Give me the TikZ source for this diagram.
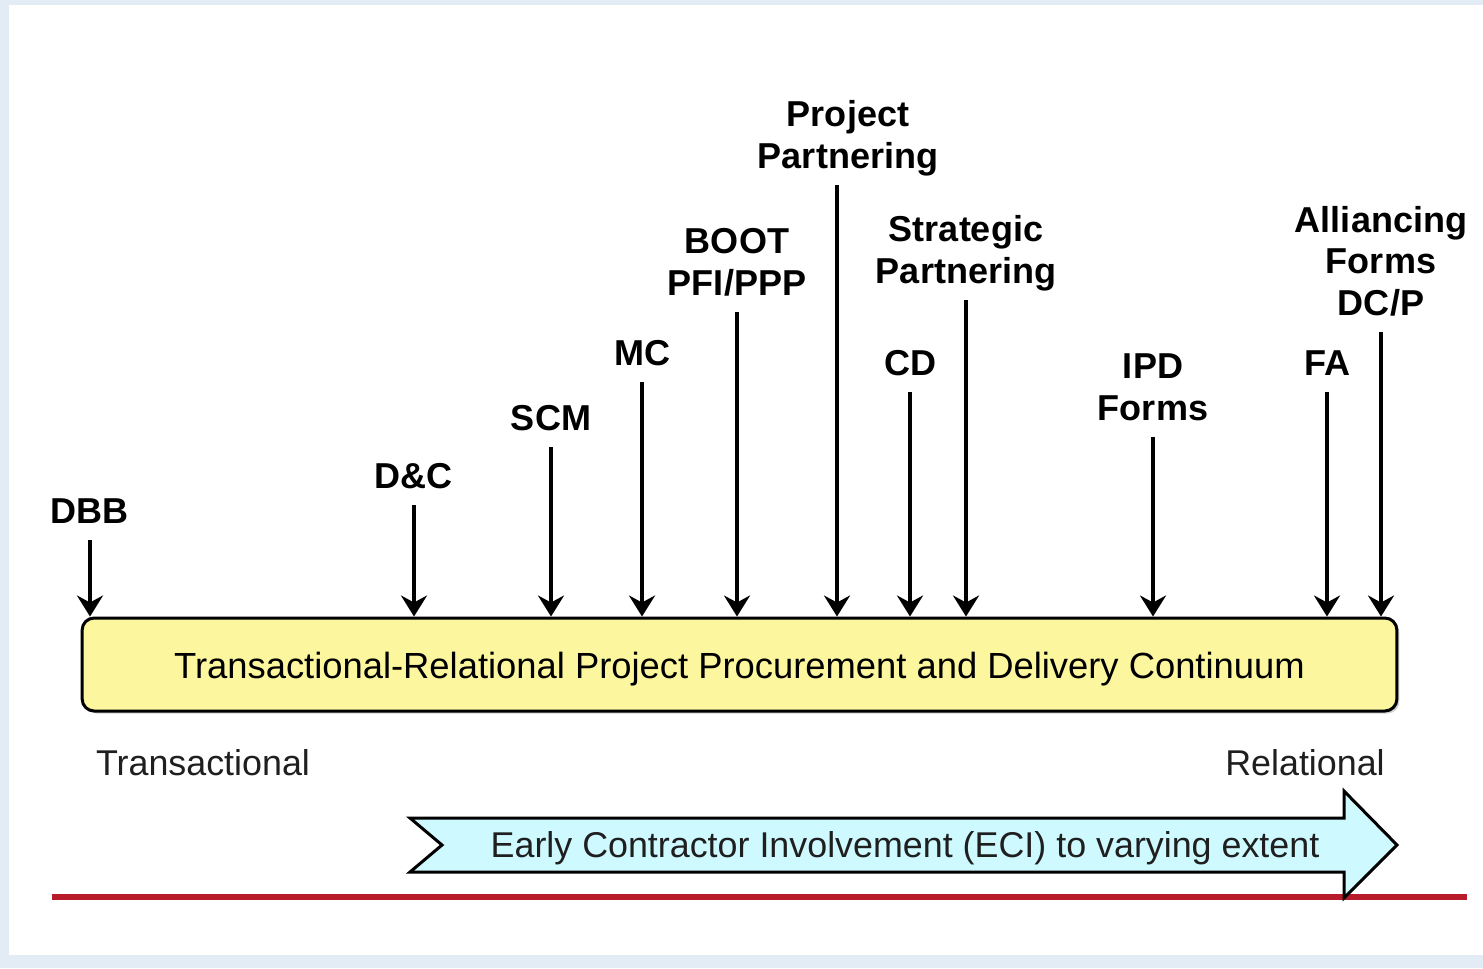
\documentclass[tikz,border=0pt]{standalone}
\usepackage{fontspec}
\setmainfont{Liberation Sans}
\usetikzlibrary{arrows.meta,positioning,shadows}
\definecolor{framebg}{RGB}{227,235,245}
\definecolor{contyellow}{RGB}{252,246,158}
\definecolor{ecicyan}{RGB}{206,250,255}
\definecolor{linered}{RGB}{184,28,42}
\tikzstyle{method}=[font=\fontsize{20.5}{23.8}\selectfont\bfseries, align=center, anchor=south, text depth=0pt, inner xsep=0pt, inner ysep=0.32cm]
\tikzstyle{pointer}=[->, line width=0.08cm]
\tikzstyle{continuum}=[draw, line width=0.06cm, fill=contyellow, rounded corners=0.24cm, minimum width=26.3cm, minimum height=1.86cm, text height=0.62cm, text depth=0.05cm, font=\fontsize{20.7}{24}\selectfont]
\tikzstyle{side}=[font=\fontsize{20.4}{24}\selectfont, text=black!88]

\begin{document}
\begin{tikzpicture}[x=0.02cm, y=-0.02cm, >={Stealth[length=0.42cm, width=0.52cm, inset=0.14cm]}]
  \useasboundingbox (0,0) rectangle (1483,968);
  % screenshot frame
  \fill[framebg] (0,0) rectangle (1483,968);
  \fill[white] (9,5) rectangle (1483,955);
  \node [continuum, drop shadow={shadow xshift=0.05cm, shadow yshift=-0.05cm, opacity=0.35, fill=gray}] (box) at (739.5,664.5) {Transactional-Relational Project Procurement and Delivery Continuum};
  % methods
  \node [method] (dbb) at (90,540) {DBB};
  \node [method] (dc) at (414,505) {D\&C};
  \node [method] (scm) at (551,447) {SCM};
  \node [method] (mc) at (642,382) {MC};
  \node [method] (boot) at (737,312) {BOOT\\PFI/PPP};
  \node [method] (pp) at (848,185) {Project\\Partnering};
  \node [method] (cd) at (910,392) {CD};
  \node [method] (sp) at (966,300) {Strategic\\Partnering};
  \node [method] (ipd) at (1153,437) {IPD\\Forms};
  \node [method] (fa) at (1327,392) {FA};
  \node [method] (afd) at (1381,332) {Alliancing\\Forms\\DC/P};
  \foreach \m in {dbb,dc,scm,mc,boot,cd,sp,ipd,fa,afd}
    \draw[pointer] (\m.south) -- (\m.south |- box.north);
  \draw[pointer] ([xshift=-0.22cm]pp.south) -- ([xshift=-0.22cm]pp.south |- box.north);
  % ends of the continuum
  \node [side] (trans) at (203,763) {Transactional};
  \node [side] (rel) at (1305,763) {Relational};
  % ECI
  \draw[linered, line width=0.12cm] (52,897) -- (1467,897);
  \draw[line width=0.06cm, fill=ecicyan, line join=miter] (410,818) -- (1344,818) -- (1344,791) -- (1397,845) -- (1344,898) -- (1344,872) -- (410,872) -- (442,845) -- cycle;
  \node [side] (eci) at (905,848) {Early Contractor Involvement (ECI) to varying extent};
\end{tikzpicture}
\end{document}
